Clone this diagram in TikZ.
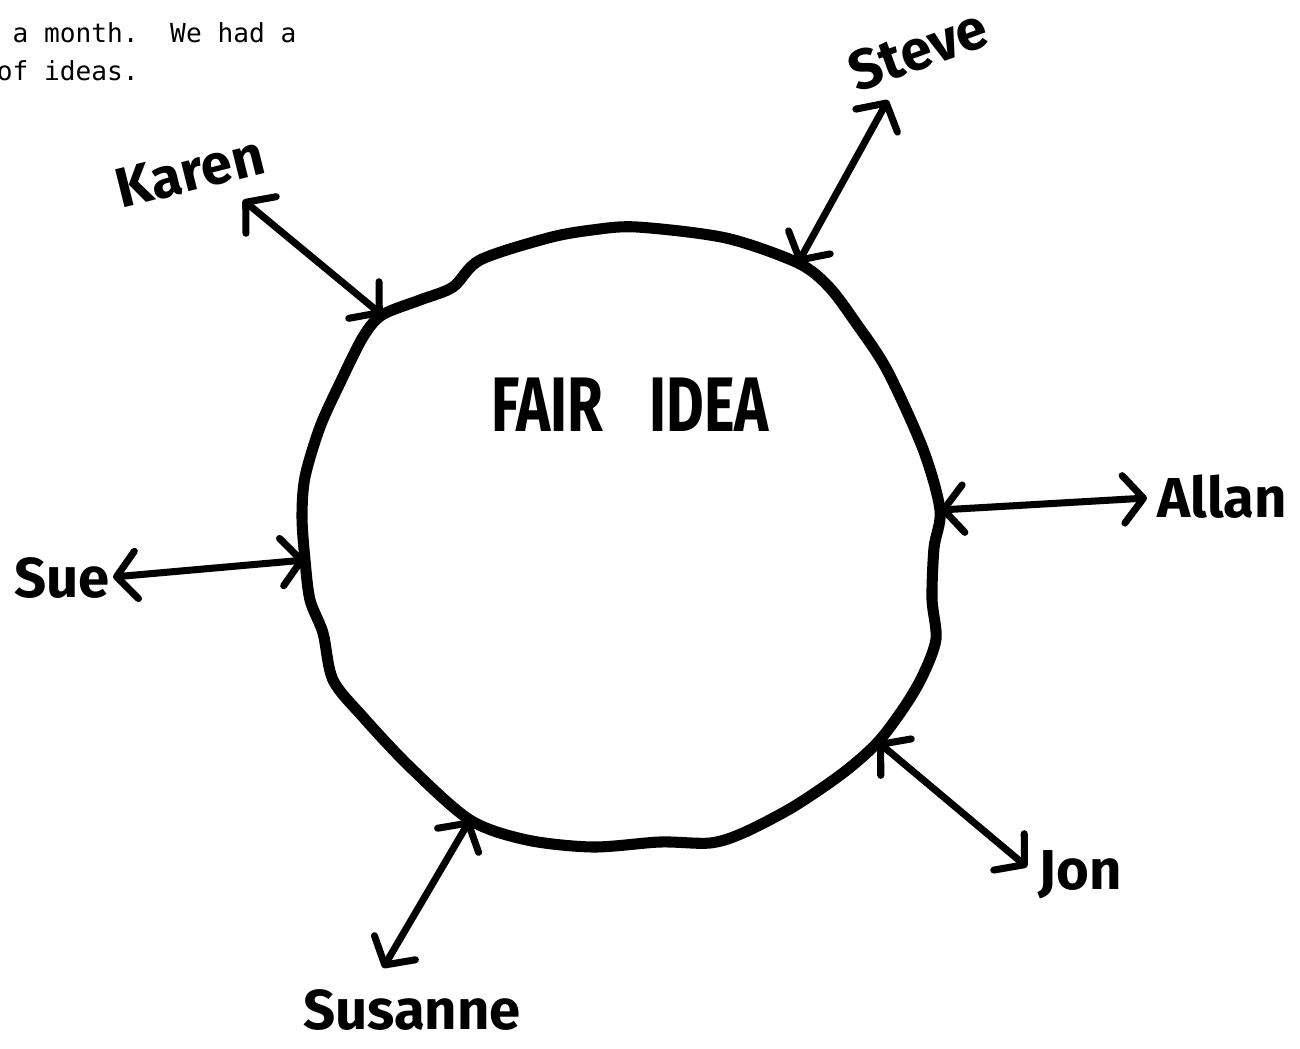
\documentclass[tikz,border=0pt]{standalone}
\usepackage{fontspec}
\usepackage{tikz}
\usetikzlibrary{arrows.meta}
\newfontfamily\handfont{Fira Sans}
\newfontfamily\typefont{DejaVu Sans Mono}

\begin{document}
\begin{tikzpicture}[
    person/.style={font=\handfont\bfseries\fontsize{32}{32}\selectfont, inner sep=0pt},
    typed/.style={font=\typefont\fontsize{14.9}{18}\selectfont, inner sep=0pt, anchor=base west},
    rim/.style={line width=6.3pt, line join=round},
    link/.style={{Straight Barb[length=0.4cm, width=0.95cm, round]}-{Straight Barb[length=0.4cm, width=0.95cm, round]}, line width=4pt, line cap=round}]
  \useasboundingbox (0,0) rectangle (26,-20.98);
  % typed page text, cut at the left edge
  \node[typed] (line1) at (-0.07,-0.84) {\hphantom{a}a month.\ \ We had a};
  \node[typed] (line2) at (-0.07,-1.60) {of ideas.};
  % points where the arrows meet the ring
  \coordinate (rimSteve) at (15.96,-5.26);
  \coordinate (rimAllan) at (18.80,-10.20);
  \coordinate (rimJon) at (17.56,-14.84);
  \coordinate (rimSusanne) at (9.40,-16.40);
  \coordinate (rimSue) at (6.10,-11.20);
  \coordinate (rimKaren) at (7.64,-6.30);
  % the hand drawn ring
  \draw[rim] plot[smooth cycle, tension=0.5] coordinates {
    (12.74,-4.54) (14.52,-4.76) (rimSteve) (16.58,-5.74) (17.12,-6.46)
    (17.74,-7.40) (18.46,-8.98) (rimAllan) (18.68,-10.96) (18.64,-11.98)
    (18.72,-12.78) (18.46,-13.50) (18.10,-14.12) (rimJon) (16.86,-15.46)
    (15.86,-16.14) (14.86,-16.66) (14.20,-16.86) (13.20,-16.84) (11.86,-16.94)
    (10.54,-16.80) (rimSusanne) (8.20,-15.34) (7.26,-14.34) (6.66,-13.60)
    (6.46,-12.66) (6.20,-12.00) (rimSue) (6.04,-10.34) (6.10,-9.54)
    (6.40,-8.54) (6.80,-7.66) (7.26,-6.74) (rimKaren) (8.40,-6.00)
    (9.06,-5.74) (9.60,-5.20) (10.96,-4.76) (11.84,-4.60)};
  \node[font=\handfont\bfseries\fontsize{44}{44}\selectfont] (idea) at (12.60,-8.10) {\scalebox{0.75}[1]{FAIR\hspace{0.55em} IDEA}};
  % names around the ring
  \node[person, rotate=14] (karen) at (3.80,-3.44) {Karen};
  \node[person, rotate=20] (steve) at (18.36,-1.00) {Steve};
  \node[person] (allan) at (24.44,-9.94) {Allan};
  \node[person] (sue) at (1.24,-11.56) {Sue};
  \node[person] (jon) at (21.60,-17.50) {Jon};
  \node[person] (susanne) at (8.24,-20.20) {Susanne};
  \coordinate (tipKaren) at (4.86,-4.00);
  \coordinate (tipSteve) at (17.76,-2.00);
  \coordinate (tipAllan) at (22.94,-9.96);
  \coordinate (tipSue) at (2.26,-11.54);
  \coordinate (tipJon) at (20.54,-17.34);
  \coordinate (tipSusanne) at (7.66,-19.36);
  \draw[link] (rimKaren) -- (tipKaren);
  \draw[link] (rimSteve) -- (tipSteve);
  \draw[link] (rimAllan) -- (tipAllan);
  \draw[link] (rimSue) -- (tipSue);
  \draw[link] (rimJon) -- (tipJon);
  \draw[link] (rimSusanne) -- (tipSusanne);
\end{tikzpicture}
\end{document}
